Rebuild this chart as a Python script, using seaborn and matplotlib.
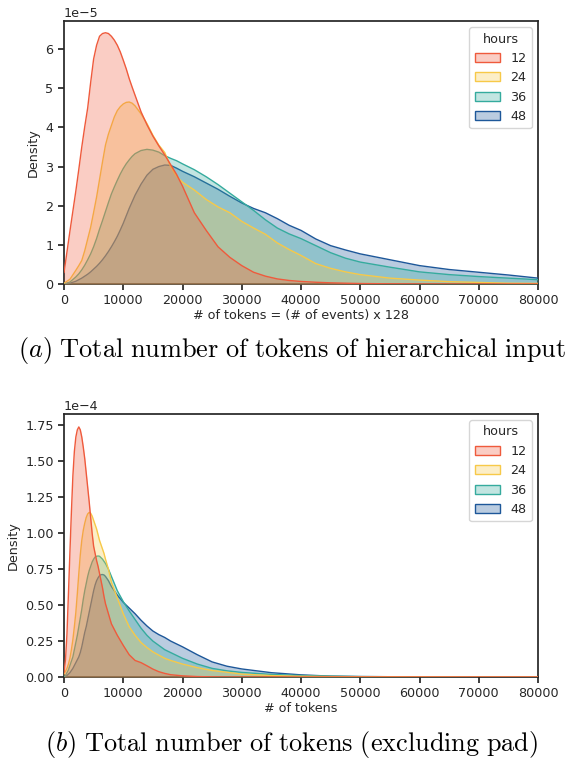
import numpy as np
import pandas as pd
import matplotlib
matplotlib.use('Agg')
import matplotlib.pyplot as plt
from matplotlib.patches import Patch
from matplotlib.ticker import MultipleLocator
from matplotlib.colors import to_rgba
import seaborn as sns

# ---- data (density curves per hours window) ----
hours = ['12', '24', '36', '48']
colors = ['#ef5a3c', '#f7c948', '#35ab9e', '#1d5799']

# (a) tokens of hierarchical input, density in units of 1e-5
x_a = [0, 1000, 2000, 2500, 3000, 3500, 4000, 4500, 5000, 5500, 6000, 6500,
       7000, 7500, 8000, 8500, 9000, 9500, 10000, 10500, 11000, 11500, 12000,
       13000, 14000, 15000, 16000, 17000, 18000, 19000, 20000,
       22000, 24000, 26000, 28000, 30000, 32000, 34000, 36000, 38000, 40000,
       42500, 45000, 47500, 50000, 55000, 60000, 65000, 70000, 75000, 80000]
dens_a_12 = [0.29, 1.35, 2.38, 2.93, 3.5, 4.02, 4.5, 5.15, 5.75, 6.1, 6.33, 6.4,
             6.42, 6.4, 6.33, 6.23, 6.1, 5.93, 5.72, 5.5, 5.25, 5.03, 4.82,
             4.4, 4.07, 3.78, 3.53, 3.3, 3.05, 2.8, 2.5,
             1.82, 1.37, 0.95, 0.68, 0.47, 0.3, 0.2, 0.13, 0.09, 0.065,
             0.045, 0.03, 0.02, 0.012, 0.005, 0.002, 0.0, 0.0, 0.0, 0.0]
dens_a_24 = [0.02, 0.12, 0.35, 0.47, 0.6, 0.85, 1.15, 1.45, 1.83, 2.22, 2.67, 3.12,
             3.55, 3.83, 4.05, 4.27, 4.43, 4.53, 4.6, 4.64, 4.65, 4.62, 4.55,
             4.35, 4.1, 3.8, 3.55, 3.36, 3.0, 2.75, 2.6,
             2.4, 2.16, 1.97, 1.82, 1.6, 1.43, 1.27, 1.05, 0.88, 0.73,
             0.52, 0.4, 0.31, 0.24, 0.15, 0.1, 0.06, 0.04, 0.02, 0.015]
dens_a_36 = [0.0, 0.05, 0.18, 0.26, 0.36, 0.48, 0.62, 0.77, 0.95, 1.16, 1.4, 1.62,
             1.85, 2.08, 2.3, 2.48, 2.65, 2.81, 2.95, 3.07, 3.17, 3.26, 3.33,
             3.41, 3.44, 3.42, 3.37, 3.28, 3.21, 3.15, 3.07,
             2.92, 2.74, 2.54, 2.32, 2.1, 1.88, 1.64, 1.43, 1.28, 1.16,
             0.98, 0.8, 0.66, 0.56, 0.43, 0.31, 0.24, 0.19, 0.15, 0.11]
dens_a_48 = [0.0, 0.02, 0.07, 0.11, 0.15, 0.2, 0.25, 0.31, 0.38, 0.45, 0.53, 0.62,
             0.72, 0.83, 0.95, 1.08, 1.22, 1.38, 1.55, 1.74, 1.93, 2.1, 2.27,
             2.55, 2.78, 2.93, 3.0, 3.04, 3.03, 2.96, 2.88,
             2.74, 2.58, 2.42, 2.24, 2.07, 1.93, 1.82, 1.67, 1.5, 1.37,
             1.15, 0.98, 0.87, 0.77, 0.62, 0.47, 0.37, 0.3, 0.23, 0.15]

# (b) tokens excluding pad, density in units of 1e-4
x_b = [0, 250, 500, 750, 1000, 1250, 1500, 1750, 2000, 2250, 2500, 2750,
       3000, 3250, 3500, 3750, 4000, 4250, 4500, 4750, 5000, 5250, 5500,
       5750, 6000, 6250, 6500, 6750, 7000,
       7500, 8000, 9000, 10000, 11000, 12000, 13000, 14000, 15000, 16000,
       17000, 18000, 20000, 22500, 25000, 27500, 30000, 35000, 40000, 45000,
       50000, 60000, 70000, 80000]
dens_b_12 = [0.03, 0.12, 0.3, 0.58, 0.87, 1.15, 1.4, 1.57, 1.67, 1.72, 1.74, 1.72,
             1.67, 1.6, 1.52, 1.42, 1.32, 1.22, 1.11, 1.0, 0.91, 0.86, 0.81,
             0.77, 0.72, 0.67, 0.62, 0.56, 0.51,
             0.44, 0.37, 0.29, 0.22, 0.155, 0.115, 0.1, 0.078, 0.055, 0.037,
             0.025, 0.016, 0.008, 0.003, 0.001, 0.0, 0.0, 0.0, 0.0, 0.0,
             0.0, 0.0, 0.0, 0.0]
dens_b_24 = [0.02, 0.04, 0.06, 0.09, 0.13, 0.19, 0.26, 0.35, 0.45, 0.58, 0.72, 0.85,
             0.95, 1.02, 1.07, 1.11, 1.135, 1.145, 1.14, 1.12, 1.09, 1.06, 1.03,
             0.99, 0.95, 0.92, 0.89, 0.86, 0.82,
             0.75, 0.66, 0.55, 0.44, 0.35, 0.29, 0.24, 0.205, 0.175, 0.152,
             0.13, 0.115, 0.09, 0.065, 0.045, 0.033, 0.02, 0.01, 0.005, 0.003,
             0.002, 0.001, 0.0, 0.0]
dens_b_36 = [0.0, 0.01, 0.03, 0.05, 0.08, 0.11, 0.14, 0.19, 0.24, 0.29, 0.35, 0.41,
             0.47, 0.54, 0.6, 0.65, 0.7, 0.74, 0.77, 0.8, 0.82, 0.835, 0.84,
             0.842, 0.84, 0.83, 0.82, 0.805, 0.79,
             0.75, 0.7, 0.6, 0.525, 0.46, 0.4, 0.34, 0.29, 0.25, 0.22,
             0.19, 0.17, 0.13, 0.09, 0.06, 0.043, 0.032, 0.018, 0.01, 0.006,
             0.003, 0.001, 0.0, 0.0]
dens_b_48 = [0.0, 0.005, 0.01, 0.02, 0.03, 0.045, 0.06, 0.08, 0.1, 0.12, 0.14, 0.17,
             0.21, 0.26, 0.31, 0.35, 0.4, 0.45, 0.5, 0.55, 0.6, 0.64, 0.67,
             0.69, 0.705, 0.712, 0.713, 0.71, 0.7,
             0.67, 0.63, 0.57, 0.52, 0.48, 0.44, 0.395, 0.355, 0.32, 0.295,
             0.275, 0.25, 0.21, 0.155, 0.105, 0.075, 0.056, 0.03, 0.015, 0.006,
             0.003, 0.001, 0.0, 0.0]

panel_a = {'12': dens_a_12, '24': dens_a_24, '36': dens_a_36, '48': dens_a_48}
panel_b = {'12': dens_b_12, '24': dens_b_24, '36': dens_b_36, '48': dens_b_48}


def to_long(xs, series, scale):
    rows = []
    for h, ys in series.items():
        for x, y in zip(xs, ys):
            rows.append((x, y * scale, h))
    return pd.DataFrame(rows, columns=['tokens', 'Density', 'hours'])


df_a = to_long(x_a, panel_a, 1e-5)
df_b = to_long(x_b, panel_b, 1e-4)

sns.set_theme(style='ticks')
plt.rcParams.update({
    'font.family': ['DejaVu Sans'],
    'font.size': 9.2,
    'axes.labelsize': 9.2,
    'xtick.labelsize': 9.2,
    'ytick.labelsize': 9.2,
    'legend.fontsize': 9.2,
    'legend.title_fontsize': 9.2,
    'xtick.major.size': 4,
    'ytick.major.size': 4,
    'axes.linewidth': 1.25,
    'mathtext.fontset': 'cm',
})

palette = dict(zip(hours, colors))
fig = plt.figure(figsize=(5.74, 7.63), dpi=100)
ax_a = fig.add_axes([64 / 574, 1 - 284 / 763, 474 / 574, 263 / 763])
ax_b = fig.add_axes([64 / 574, 1 - 677 / 763, 474 / 574, 263 / 763])


def draw(ax, df, ymax, ystep, xlabel):
    # draw 48 first so 12 ends up on top
    for i, h in enumerate(hours[::-1]):
        sub = df[df['hours'] == h]
        c = palette[h]
        ax.fill_between(sub['tokens'], sub['Density'], color=c, alpha=0.3,
                        linewidth=0, zorder=2 + 2 * i)
        sns.lineplot(data=sub, x='tokens', y='Density', color=c, linewidth=1.0,
                     ax=ax, zorder=3 + 2 * i, estimator=None, sort=False)
    ax.set_xlim(0, 80000)
    ax.set_ylim(0, ymax)
    ax.xaxis.set_major_locator(MultipleLocator(10000))
    ax.yaxis.set_major_locator(MultipleLocator(ystep))
    ax.ticklabel_format(axis='y', style='sci', scilimits=(0, 0))
    ax.set_xlabel(xlabel, labelpad=1)
    ax.set_ylabel('Density')
    handles = [Patch(facecolor=to_rgba(palette[h], 0.3), edgecolor=palette[h],
                     label=h) for h in hours]
    ax.legend(handles=handles, title='hours', loc='upper right')


draw(ax_a, df_a, 6.72e-5, 1e-5, '# of tokens = (# of events) x 128')
draw(ax_b, df_b, 1.83e-4, 0.25e-4, '# of tokens')

fig.text(0.508, 1 - 351 / 763,
         r'$(a)\ \mathrm{Total\ number\ of\ tokens\ of\ hierarchical\ input}$',
         ha='center', va='center', fontsize=18.9, color='black')
fig.text(0.508, 1 - 745 / 763,
         r'$(b)\ \mathrm{Total\ number\ of\ tokens\ (excluding\ pad)}$',
         ha='center', va='center', fontsize=18.9, color='black')

fig.savefig('out.png', dpi=100)
